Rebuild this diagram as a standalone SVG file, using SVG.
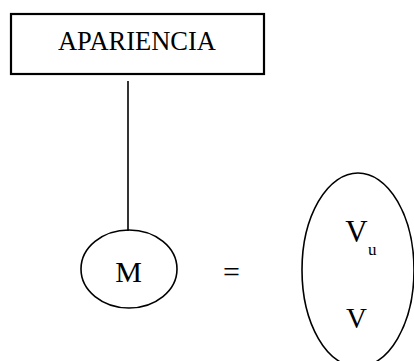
<svg xmlns="http://www.w3.org/2000/svg" width="414" height="361" viewBox="0 0 414 361">
<style>
.t{font-family:"Liberation Serif","Times New Roman","DejaVu Serif",serif;fill:#000}
.s{fill:none;stroke:#000;stroke-width:1.6}
.b{fill:none;stroke:#000;stroke-width:2.2}
</style>
<rect width="414" height="361" fill="#fff"/>
<g id="connectors">
<line class="s" x1="128" y1="81" x2="128" y2="231"/>
</g>
<g id="apariencia">
<rect class="b" x="11" y="14" width="253" height="60"/>
<text class="t" x="137" y="50" font-size="26.5" text-anchor="middle">APARIENCIA</text>
</g>
<g id="m">
<ellipse class="s" cx="129" cy="269" rx="48" ry="39"/>
<text class="t" x="128.5" y="282" font-size="30" text-anchor="middle">M</text>
</g>
<g id="equals">
<text class="t" x="231.5" y="282" font-size="30" text-anchor="middle">=</text>
</g>
<g id="v">
<ellipse class="s" cx="358" cy="270" rx="56" ry="97"/>
<text class="t" x="356.5" y="242" font-size="31" text-anchor="middle">V</text>
<text class="t" x="368" y="255" font-size="17">u</text>
<text class="t" x="356.5" y="328" font-size="29" text-anchor="middle">V</text>
</g>
</svg>
